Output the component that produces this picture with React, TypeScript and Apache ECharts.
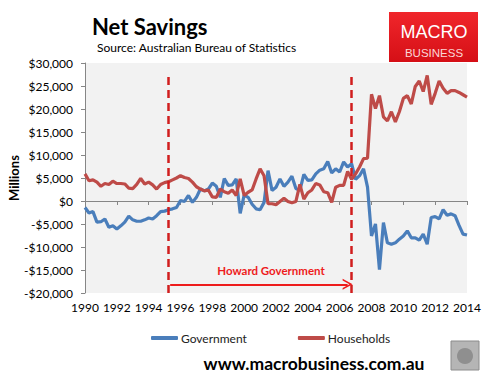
import React, { useEffect, useRef } from "react";
import * as echarts from "echarts";

// Quarterly net savings, $ millions, starting 1990 Q1
const START_YEAR = 1990;
const STEP = 0.25;

const government = [
  -1400, -2600, -2300, -4600, -4500, -3900, -5700, -5400, -6100, -5400, -4600, -3300,
  -4100, -4400, -4400, -4100, -3700, -3900, -3200, -2300, -2200, -1900, -1700, -1400,
  100, -100, 1200, -300, 800, 2600, 2200, 2600, 3900, 3200, 800, 4900,
  3400, 3500, 4800, -2700, 1300, 800, -700, -1700, -1900, -300, 6600, 2300,
  3000, 4800, 3200, 4100, 5400, 2700, 2300, 5800, 4500, 4600, 5900, 6700,
  7000, 8600, 6100, 7000, 6300, 8500, 7400, 8100, 4700, 5500, 7000, 3000,
  -7600, -5000, -14900, -4700, -9100, -9400, -9100, -8300, -7600, -6500, -8000, -8000,
  -8500, -7200, -9400, -3600, -3400, -3900, -1900, -3100, -2800, -3200, -5300, -7200,
  -7400,
];

const households = [
  5900, 4400, 4600, 4100, 3200, 3800, 3600, 4300, 3800, 3800, 3700, 2800,
  2700, 3600, 4900, 3700, 4100, 3500, 2600, 3600, 4000, 4200, 4600, 5000,
  5500, 5100, 4900, 4100, 3100, 2600, 2200, 2400, 900, 800, 2600, 2000,
  1700, 2400, 1200, 4800, 1200, 1900, 2400, 4800, 7000, 5500, -600, -600,
  -800, -100, 600, -100, -400, -100, 3600, 400, 1800, 2400, 3800, 3500,
  2000, 1800, -300, 3000, 3400, 3400, 6400, 4700, 5900, 7400, 9200, 9300,
  23200, 20100, 22900, 18300, 17400, 19400, 17200, 19400, 22300, 22900, 21100, 24900,
  26100, 23800, 27300, 21000, 23400, 26100, 24500, 23400, 24000, 24000, 23600, 23100,
  22600,
];

const seriesNames = ["Government", "Households"];
const yTicks = { min: -20000, max: 30000, interval: 5000 };
const xTicks = { min: 1990, max: 2014, interval: 2 };
const howardStart = 1995.25;
const howardEnd = 2006.75;
const arrowFrom = 1995.35;
const arrowTo = 2006.5;
const arrowLevel = -18100;
const dashTop = 28000;

const toPoints = (arr: number[]) => arr.map((v, i) => [START_YEAR + i * STEP, v]);

const money = (v: number) =>
  (v < 0 ? "-" : "") + "$" + Math.abs(v).toLocaleString("en-US");

export default function App() {
  const ref = useRef<HTMLDivElement>(null);

  useEffect(() => {
    document.body.style.margin = "0";
    if (!ref.current) return;
    const chart = echarts.init(ref.current, undefined, { renderer: "svg" });
    const FONT = "Lato";
    const option: any = {
      animation: false,
      backgroundColor: "#ffffff",
      textStyle: { fontFamily: FONT },
      grid: {
        left: 85,
        right: 25,
        top: 63,
        bottom: 89,
        show: true,
        backgroundColor: "#f2f2f2",
        borderWidth: 0,
        containLabel: false,
      },
      legend: {
        left: 146,
        top: 327,
        itemGap: 51,
        itemWidth: 27,
        itemHeight: 4,
        icon: "roundRect",
        textStyle: { fontFamily: FONT, fontSize: 12, color: "#222", padding: [0, 0, 0, -2] },
        data: seriesNames,
      },
      xAxis: [
        {
          type: "value",
          min: xTicks.min,
          max: xTicks.max,
          interval: xTicks.interval,
          position: "bottom",
          axisLine: { show: false, onZero: false },
          axisTick: { show: false },
          splitLine: { show: false },
          axisLabel: {
            color: "#000",
            fontSize: 12,
            fontFamily: FONT,
            margin: 8,
            formatter: (v: number) => String(v),
          },
        },
        {
          type: "value",
          min: xTicks.min,
          max: xTicks.max,
          interval: xTicks.interval,
          position: "bottom",
          axisLine: {
            show: true,
            onZero: true,
            onZeroAxisIndex: 0,
            lineStyle: { color: "#868686", width: 1 },
          },
          axisTick: { show: true, length: 4, lineStyle: { color: "#868686" } },
          axisLabel: { show: false },
          splitLine: { show: false },
        },
      ],
      yAxis: {
        type: "value",
        min: yTicks.min,
        max: yTicks.max,
        interval: yTicks.interval,
        axisLine: { show: true, lineStyle: { color: "#868686", width: 1 } },
        axisTick: { show: true, length: 4, lineStyle: { color: "#868686" } },
        splitLine: { show: false },
        axisLabel: {
          color: "#000",
          fontSize: 12,
          fontFamily: FONT,
          margin: 12,
          formatter: money,
        },
      },
      series: [
        {
          name: seriesNames[0],
          type: "line",
          data: toPoints(government),
          showSymbol: false,
          symbol: "none",
          lineStyle: { color: "#4a7ebb", width: 3.2 },
          itemStyle: { color: "#4a7ebb" },
          markLine: {
            silent: true,
            label: { show: false },
            data: [
              [
                {
                  coord: [arrowFrom, arrowLevel],
                  symbol: "none",
                  lineStyle: { color: "#ee1c1c", width: 2, type: "solid" },
                },
                {
                  coord: [arrowTo, arrowLevel],
                  symbol: "path://M0,10 L5,0 L10,10 L8.4,10 L5,3.2 L1.6,10 Z",
                  symbolSize: [11, 10],
                },
              ],
            ],
          },
        },
        {
          name: seriesNames[1],
          type: "line",
          data: toPoints(households),
          showSymbol: false,
          symbol: "none",
          lineStyle: { color: "#be4b48", width: 3.2 },
          itemStyle: { color: "#be4b48" },
          markLine: {
            silent: true,
            symbol: ["none", "none"],
            label: { show: false },
            lineStyle: { color: "#d11e1e", width: 2.5, type: [8, 5] },
            data: [
              [{ coord: [howardStart, yTicks.min] }, { coord: [howardStart, dashTop] }],
              [{ coord: [howardEnd, yTicks.min] }, { coord: [howardEnd, dashTop] }],
            ],
          },
        },
      ],
      graphic: [
        {
          type: "text",
          left: 92,
          top: 15,
          style: { text: "Net Savings", font: `bold 22px ${FONT}`, fill: "#000" },
        },
        {
          type: "text",
          left: 97,
          top: 41,
          style: { text: "Source: Australian Bureau of Statistics", font: `12px ${FONT}`, fill: "#000" },
        },
        {
          type: "rect",
          shape: { x: 389, y: 12, width: 89, height: 50 },
          style: {
            fill: new echarts.graphic.LinearGradient(0, 0, 0, 1, [
              { offset: 0, color: "#f0262b" },
              { offset: 1, color: "#d50f16" },
            ]),
          },
        },
        {
          type: "text",
          x: 434,
          y: 32,
          style: {
            text: "MACRO",
            font: `18px 'Liberation Sans'`,
            fill: "#ffffff",
            align: "center",
            verticalAlign: "middle",
            textAlign: "center",
            textVerticalAlign: "middle",
          },
        },
        {
          type: "text",
          x: 434,
          y: 53,
          style: {
            text: "BUSINESS",
            font: `11.5px 'Liberation Sans'`,
            fill: "#fbd6d6",
            align: "center",
            verticalAlign: "middle",
            textAlign: "center",
            textVerticalAlign: "middle",
          },
        },
        {
          type: "text",
          x: 14,
          y: 178,
          rotation: Math.PI / 2,
          style: {
            text: "Millions",
            font: `bold 13px ${FONT}`,
            fill: "#000",
            align: "center",
            verticalAlign: "middle",
            textAlign: "center",
            textVerticalAlign: "middle",
          },
        },
        {
          type: "text",
          x: 271,
          y: 270,
          style: {
            text: "Howard Government",
            font: `bold 11.5px ${FONT}`,
            fill: "#ee1c1c",
            align: "center",
            verticalAlign: "middle",
            textAlign: "center",
            textVerticalAlign: "middle",
          },
        },
        {
          type: "text",
          x: 314,
          y: 363,
          style: {
            text: "www.macrobusiness.com.au",
            font: `bold 17.5px ${FONT}`,
            fill: "#000",
            align: "center",
            verticalAlign: "middle",
            textAlign: "center",
            textVerticalAlign: "middle",
          },
        },
        {
          type: "rect",
          shape: { x: 451, y: 341, width: 28, height: 29 },
          style: { fill: "#b5b5b5", stroke: "#8c8c8c", lineWidth: 1 },
        },
        {
          type: "circle",
          shape: { cx: 465, cy: 356, r: 8 },
          style: { fill: "#8f8f8f" },
        },
      ],
    };
    chart.setOption(option);
    return () => chart.dispose();
  }, []);

  return <div ref={ref} style={{ width: 492, height: 382 }} />;
}
